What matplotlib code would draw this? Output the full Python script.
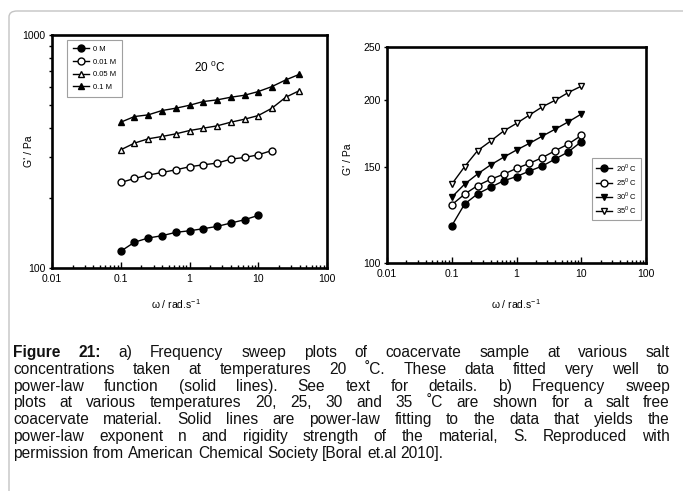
import matplotlib.pyplot as plt
from matplotlib.patches import FancyBboxPatch
from matplotlib.ticker import NullLocator, NullFormatter

plt.rcParams['font.family'] = ['Liberation Sans', 'DejaVu Sans']
plt.rcParams['mathtext.fontset'] = 'custom'
plt.rcParams['mathtext.rm'] = 'Liberation Sans'

# частоты, рад/с
w = [0.1, 0.158, 0.251, 0.398, 0.631, 1.0, 1.58, 2.51, 3.98, 6.31, 10.0, 15.8, 25.1, 39.8]

# a) разные концентрации соли, 20 C
salt_labels = ['0 M', '0.01 M', '0.05 M', '0.1 M']
g_0M = [118, 129, 134.5, 137.6, 142.2, 144.5, 147.4, 150.8, 155.9, 161.1, 168.2]
g_001M = [232.8, 242.2, 250.4, 257.0, 263.9, 271.9, 277.3, 281.8, 293.2, 298.1, 306.0, 319.3]
g_005M = [321.5, 343.5, 358.5, 366.8, 376.5, 389.0, 398.1, 407.4, 422.4, 435.1, 451.1, 485.0, 540.6, 577.3]
g_01M = [422.4, 446.7, 454.2, 474.1, 485.0, 499.4, 518.0, 526.6, 540.6, 551.4, 571.8, 600.6, 641.5, 678.4]

# b) разные температуры, без соли
temp_labels = ['20$^0$ C', '25$^0$ C', '30$^0$ C', '35$^0$ C']
g_20 = [117.1, 128.4, 134.1, 137.9, 141.7, 144.3, 147.7, 150.9, 155.5, 160.2, 167.3]
g_25 = [128.0, 133.9, 138.9, 142.6, 145.7, 149.4, 152.6, 156.4, 161.1, 165.6, 171.8]
g_30 = [132.2, 139.7, 145.9, 151.6, 156.6, 161.5, 166.1, 171.3, 176.5, 182.0, 188.1]
g_35 = [139.7, 150.5, 161.1, 167.7, 175.0, 180.8, 187.3, 194.0, 199.5, 206.1, 211.7]

x_ticks = [0.01, 0.1, 1, 10, 100]
x_ticklabels = ['0.01', '0.1', '1', '10', '100']

caption = [
    "Figure 21: a) Frequency sweep plots of coacervate sample at various salt",
    "concentrations taken at temperatures 20 \u02daC. These data fitted very well to",
    "power-law function (solid lines).  See text for details. b) Frequency sweep",
    "plots at various temperatures 20, 25, 30 and 35 \u02daC are shown for a salt free",
    "coacervate material. Solid lines are power-law fitting to the data that yields the",
    "power-law exponent n and rigidity strength of the material, S. Reproduced with",
    "permission from American Chemical Society [Boral et.al 2010].",
]

fig = plt.figure(figsize=(6.83, 4.91), dpi=100)
W, H = 683, 491

# серая рамка
frame = FancyBboxPatch((9 / W, 1 - 520 / H), 720 / W, 509 / H,
                       boxstyle='round,pad=0,rounding_size=0.012',
                       transform=fig.transFigure, fill=False,
                       edgecolor='#c4c4c4', linewidth=1.0)
fig.patches.append(frame)

ax1 = fig.add_axes([52 / W, 1 - 268 / H, 275 / W, 233 / H])
ax2 = fig.add_axes([387 / W, 1 - 263 / H, 259 / W, 216 / H])

series_a = [(g_0M, 'o', 'k'), (g_001M, 'o', 'w'), (g_005M, '^', 'w'), (g_01M, '^', 'k')]
for (g, m, fc), lab in zip(series_a, salt_labels):
    ax1.plot(w[:len(g)], g, marker=m, color='k', mfc=fc, mec='k', ms=5, lw=1, label=lab)

series_b = [(g_20, 'o', 'k'), (g_25, 'o', 'w'), (g_30, 'v', 'k'), (g_35, 'v', 'w')]
for (g, m, fc), lab in zip(series_b, temp_labels):
    ax2.plot(w[:len(g)], g, marker=m, color='k', mfc=fc, mec='k', ms=5, lw=1, label=lab)

for ax in (ax1, ax2):
    ax.set_xscale('log')
    ax.set_yscale('log')
    ax.set_xlim(0.01, 100)
    ax.set_xticks(x_ticks, x_ticklabels)
    for s in ax.spines.values():
        s.set_linewidth(1.9)
    ax.tick_params(axis='x', which='major', direction='in', length=4, width=1, labelsize=7.5, pad=4.5)
    ax.tick_params(axis='x', which='minor', direction='in', length=2.5, width=1)
    ax.tick_params(axis='y', which='both', direction='out', length=2.5, width=1, labelsize=7.5, pad=2)
    ax.set_ylabel("G' / Pa", fontsize=7.5)
    ax.set_xlabel("\u03c9 / rad.s$^{-1}$", fontsize=7.5)

ax1.set_ylim(100, 1000)
ax1.set_yticks([100, 1000], ['100', '1000'])
ax1.yaxis.set_minor_formatter(NullFormatter())
ax1.yaxis.set_label_coords(-0.065, 0.5)
ax1.xaxis.set_label_coords(0.451, -0.124)
ax1.text(0.575, 0.86, '20 $^{0}$C', fontsize=8.5, ha='center', va='center',
         transform=ax1.transAxes)

ax2.set_ylim(100, 250)
ax2.yaxis.set_minor_locator(NullLocator())
ax2.set_yticks([100, 150, 200, 250], ['100', '150', '200', '250'])
ax2.yaxis.set_label_coords(-0.131, 0.48)
ax2.xaxis.set_label_coords(0.498, -0.157)

leg1 = ax1.legend(loc='upper left', bbox_to_anchor=(0.04, 0.995), fontsize=5.5,
                  fancybox=False, edgecolor='#888888', handlelength=2.2,
                  borderpad=0.75, labelspacing=0.7, handletextpad=0.5)
leg1.get_frame().set_linewidth(0.8)
leg2 = ax2.legend(loc='upper left', bbox_to_anchor=(0.776, 0.505), fontsize=5.5,
                  fancybox=False, edgecolor='#888888', handlelength=2.2,
                  borderpad=0.5, labelspacing=0.3, handletextpad=0.5)
leg2.get_frame().set_linewidth(0.8)

# подпись с выравниванием по ширине
renderer = fig.canvas.get_renderer()
x0, x1 = 13, 670
y_first, dy = 357, 16.8   # базовые линии строк, px сверху
cap_size = 11.2
for i, line in enumerate(caption):
    words = line.split()
    texts = []
    for j, wd in enumerate(words):
        bold = (i == 0 and j < 2)
        t = fig.text(0, 1 - (y_first + i * dy) / H, wd, fontsize=cap_size,
                     fontweight='bold' if bold else 'normal', va='baseline', ha='left',
                     color='#111111')
        texts.append(t)
    widths = [t.get_window_extent(renderer).width for t in texts]
    if i < len(caption) - 1:
        gap = (x1 - x0 - sum(widths)) / (len(words) - 1)
    else:
        gap = fig.text(0, 0, ' ', fontsize=cap_size).get_window_extent(renderer).width
    x = x0
    for t, wd in zip(texts, widths):
        t.set_x(x / W)
        x += wd + gap

fig.savefig('out.png', dpi=100)
